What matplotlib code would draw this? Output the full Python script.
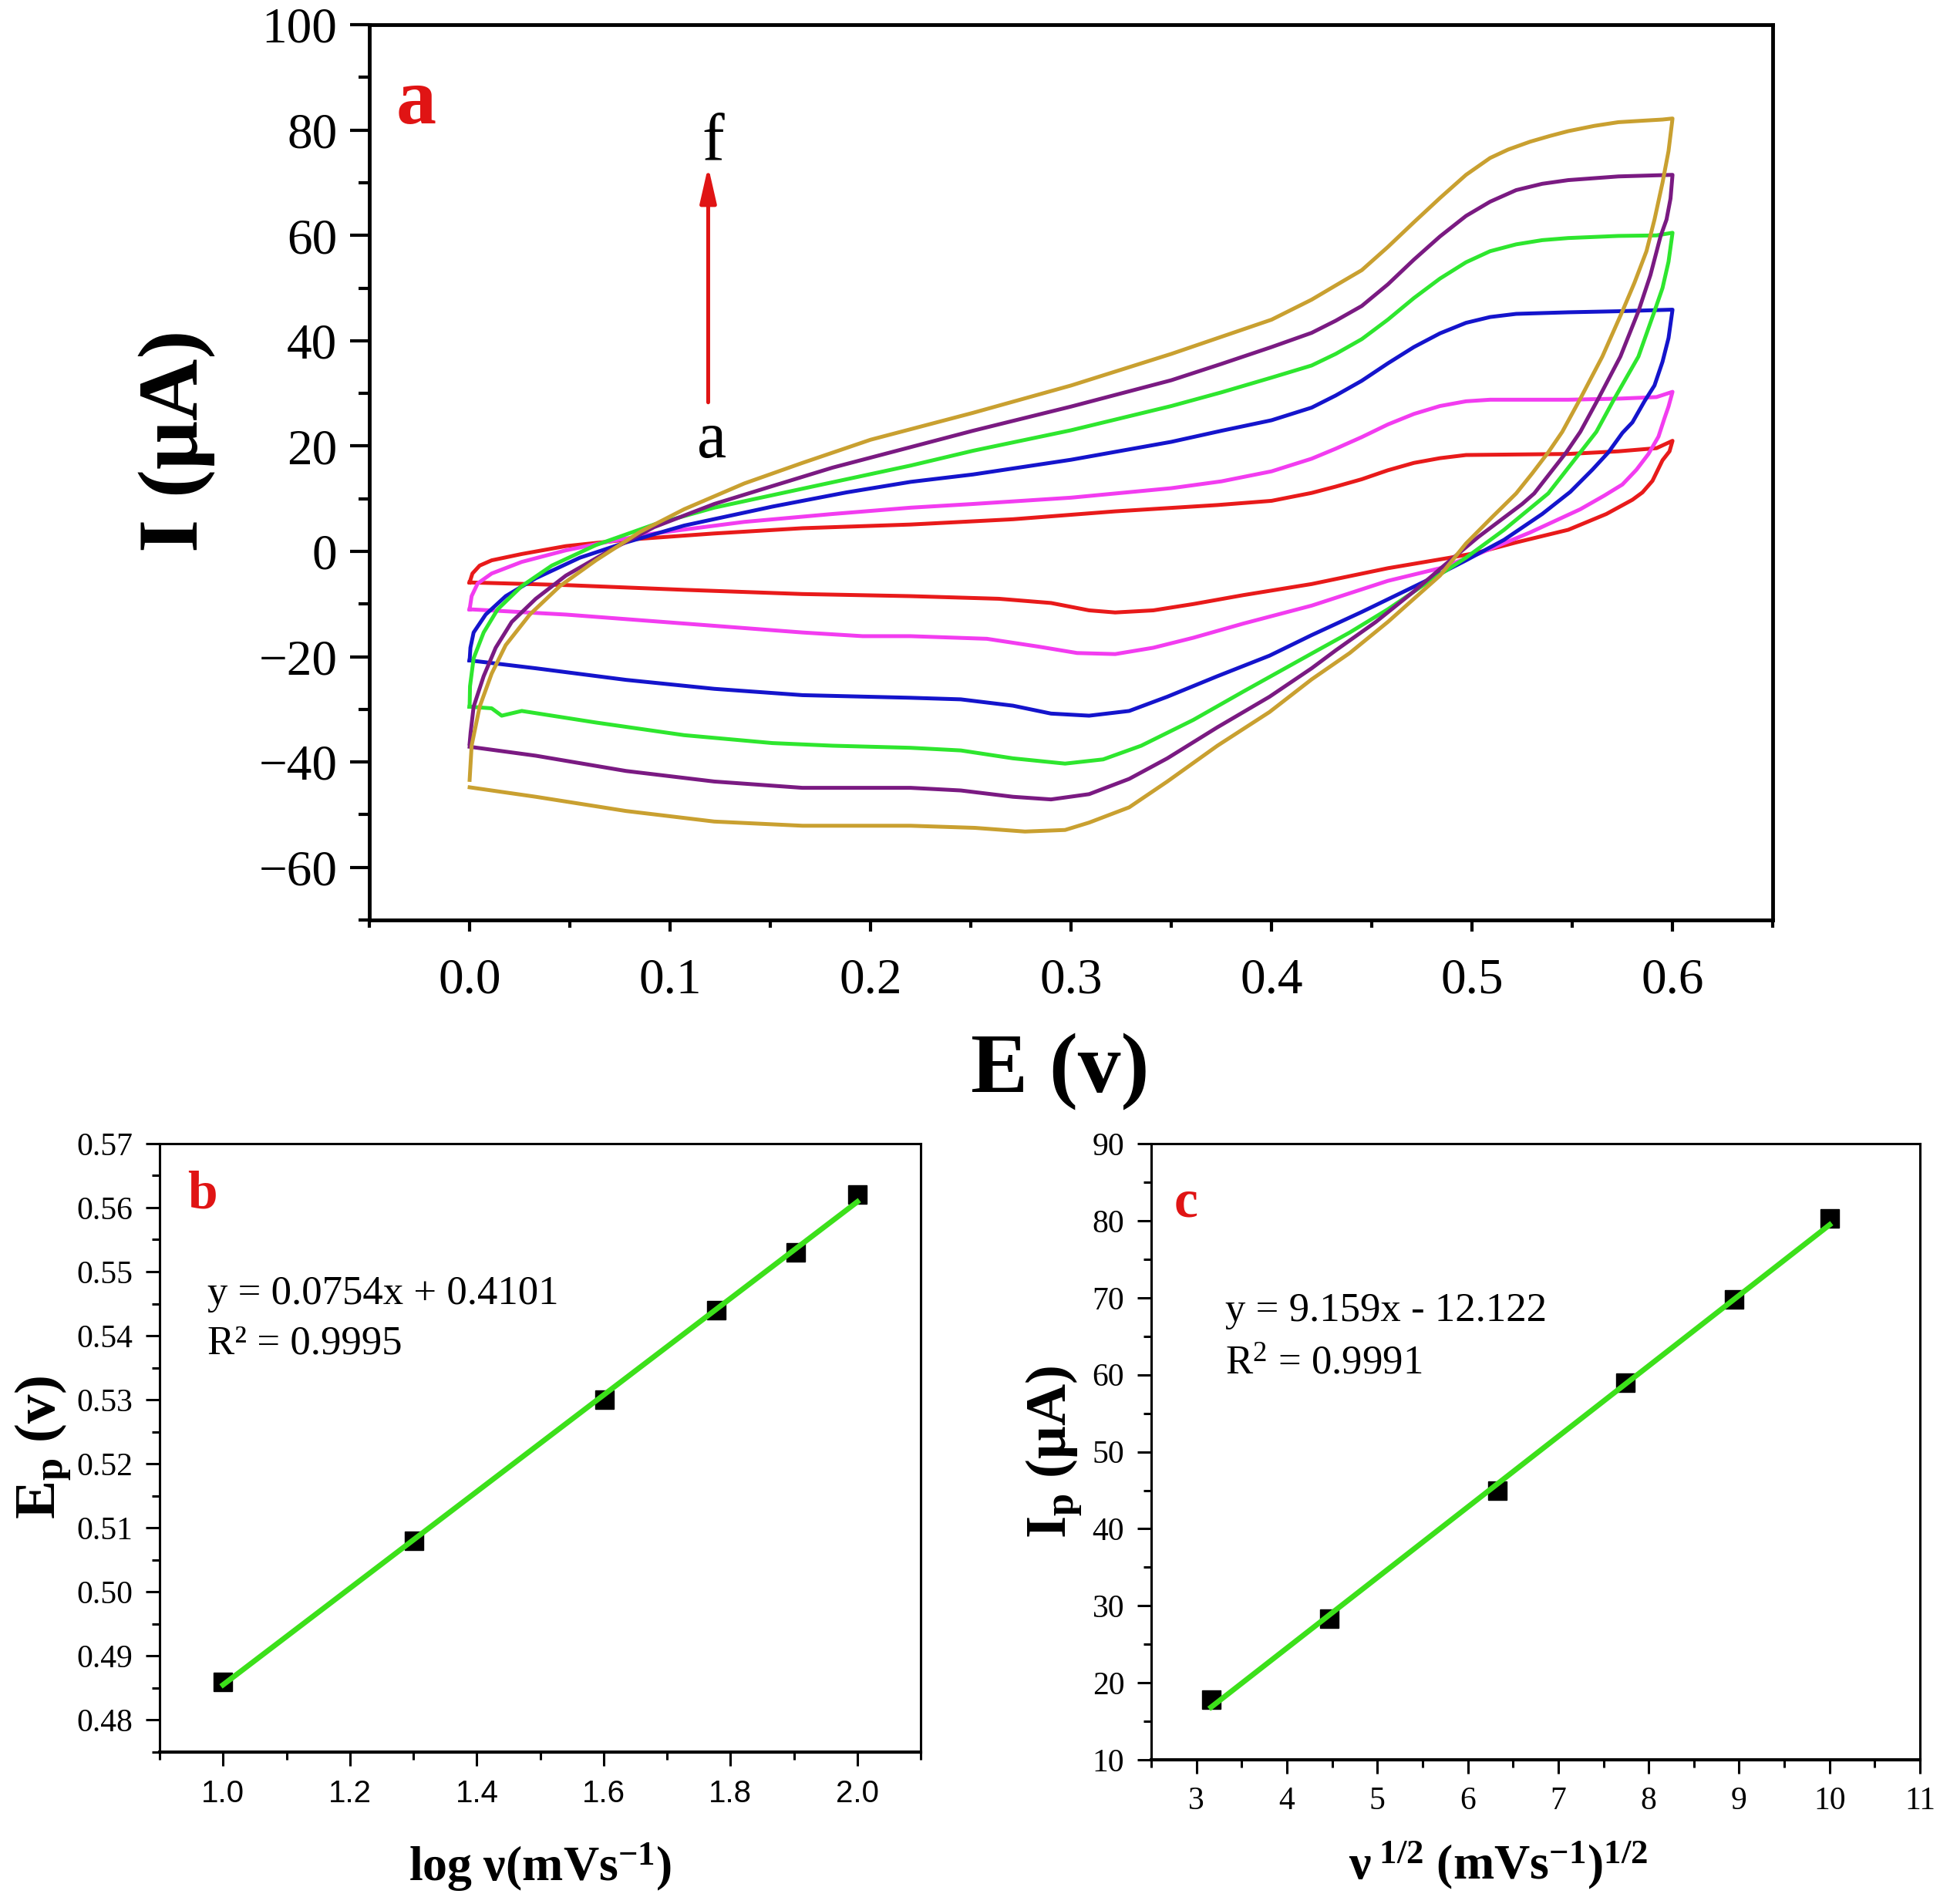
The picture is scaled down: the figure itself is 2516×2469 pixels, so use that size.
import numpy as np
import matplotlib
matplotlib.use("Agg")
import matplotlib.pyplot as plt

plt.rcParams["font.family"] = ["Liberation Serif", "DejaVu Serif"]
plt.rcParams["mathtext.fontset"] = "custom"
plt.rcParams["mathtext.rm"] = "Liberation Serif"
plt.rcParams["mathtext.it"] = "Liberation Serif:italic"
plt.rcParams["mathtext.bf"] = "Liberation Serif:bold"

# ---------------- panel a: CVs a..f (E / V, I / uA), forward sweep then reverse sweep
cv_a_E = [0, 0.0014, 0.005, 0.011, 0.026, 0.048, 0.078, 0.122, 0.166, 0.22, 0.271, 0.322, 0.373, 0.40,
          0.42, 0.432, 0.445, 0.458, 0.471, 0.484, 0.497, 0.522, 0.548, 0.573, 0.592, 0.6,
          0.5985, 0.595, 0.590, 0.585, 0.580, 0.567, 0.548, 0.522, 0.502, 0.489, 0.458, 0.42, 0.386,
          0.361, 0.341, 0.322, 0.309, 0.290, 0.264, 0.22, 0.166, 0.107, 0.048, 0.01, 0]
cv_a_I = [-5.9, -4.2, -2.7, -1.7, -0.5, 1.0, 2.2, 3.4, 4.4, 5.1, 6.1, 7.6, 8.8, 9.6,
          11.1, 12.3, 13.7, 15.4, 16.8, 17.7, 18.3, 18.4, 18.5, 19.0, 19.6, 21.0,
          19.0, 17.3, 13.4, 11.2, 9.8, 7.1, 4.1, 1.7, -0.3, -1.2, -3.2, -6.2, -8.3,
          -10.0, -11.2, -11.6, -11.2, -9.8, -9.0, -8.5, -8.1, -7.3, -6.4, -6.0, -5.9]

cv_b_E = [0, 0.001, 0.004, 0.011, 0.026, 0.048, 0.070, 0.092, 0.137, 0.181, 0.22, 0.251, 0.3, 0.35,
          0.375, 0.40, 0.42, 0.432, 0.445, 0.458, 0.471, 0.484, 0.497, 0.509, 0.522, 0.548, 0.573,
          0.592, 0.6,
          0.598, 0.596, 0.593, 0.588, 0.582, 0.575, 0.566, 0.554, 0.529, 0.503, 0.484, 0.458, 0.42,
          0.386, 0.361, 0.341, 0.322, 0.303, 0.284, 0.258, 0.22, 0.196, 0.166, 0.107, 0.048, 0.01, 0]
cv_b_I = [-11.0, -8.5, -6.1, -4.2, -2.0, 0.2, 1.9, 3.4, 5.6, 7.1, 8.3, 9.0, 10.2, 12.0,
          13.3, 15.2, 17.6, 19.5, 21.7, 24.1, 26.1, 27.6, 28.5, 28.8, 28.8, 28.8, 29.0,
          29.3, 30.3,
          27.5, 25.3, 21.8, 18.5, 15.5, 12.7, 10.6, 8.0, 3.6, -0.5, -3.2, -5.6, -10.3,
          -13.7, -16.4, -18.3, -19.5, -19.3, -18.1, -16.6, -16.1, -16.1, -15.4, -13.7, -12.0, -11.2, -11.0]

cv_c_E = [0, 0.0004, 0.002, 0.008, 0.018, 0.033, 0.055, 0.078, 0.107, 0.151, 0.188, 0.22, 0.251, 0.3,
          0.35, 0.375, 0.40, 0.42, 0.432, 0.445, 0.458, 0.471, 0.484, 0.497, 0.509, 0.522, 0.548,
          0.573, 0.6,
          0.598, 0.595, 0.591, 0.586, 0.580, 0.575, 0.568, 0.560, 0.549, 0.535, 0.516, 0.497, 0.477,
          0.445, 0.42, 0.399, 0.373, 0.348, 0.329, 0.309, 0.290, 0.271, 0.245, 0.22, 0.166, 0.122,
          0.078, 0.033, 0]
cv_c_I = [-20.7, -18.3, -15.4, -12.0, -8.5, -5.1, -1.2, 1.7, 4.9, 8.5, 11.2, 13.2, 14.6, 17.4,
          20.8, 22.9, 24.9, 27.3, 29.6, 32.4, 35.7, 38.8, 41.4, 43.4, 44.5, 45.1, 45.4,
          45.6, 45.9,
          40.5, 36.0, 31.5, 28.5, 24.5, 22.5, 18.8, 15.5, 11.3, 7.1, 2.2, -1.7, -5.6,
          -11.5, -15.9, -19.8, -23.7, -27.6, -30.3, -31.2, -30.8, -29.3, -28.1, -27.8, -27.3, -26.1,
          -24.4, -22.2, -20.7]

cv_d_E = [0, 0.0002, 0.002, 0.007, 0.014, 0.026, 0.041, 0.063, 0.092, 0.122, 0.166, 0.22, 0.251, 0.3,
          0.35, 0.375, 0.40, 0.42, 0.432, 0.445, 0.458, 0.471, 0.484, 0.497, 0.509, 0.522, 0.535,
          0.548, 0.573, 0.592, 0.6,
          0.598, 0.595, 0.591, 0.583, 0.571, 0.562, 0.554, 0.538, 0.516, 0.497, 0.477, 0.458, 0.439,
          0.42, 0.386, 0.361, 0.335, 0.316, 0.297, 0.271, 0.245, 0.22, 0.181, 0.151, 0.107, 0.063,
          0.026, 0.016, 0.011, 0]
cv_d_I = [-29.5, -25.6, -20.3, -15.4, -11.0, -6.6, -2.7, 1.2, 5.1, 8.3, 11.9, 16.3, 19.1, 23.0,
          27.6, 30.2, 33.0, 35.3, 37.5, 40.3, 44.0, 48.1, 51.8, 54.9, 57.0, 58.3, 59.1,
          59.5, 59.9, 60.0, 60.5,
          55.0, 50.0, 45.6, 37.0, 29.0, 22.7, 18.8, 11.0, 4.1, -1.2, -6.1, -11.0, -15.4,
          -19.4, -26.6, -32.0, -36.9, -39.5, -40.3, -39.3, -37.8, -37.3, -36.9, -36.4, -34.9, -32.5,
          -30.3, -31.2, -29.8, -29.5]

cv_e_E = [0, 0.0005, 0.002, 0.007, 0.013, 0.021, 0.033, 0.048, 0.070, 0.092, 0.122, 0.151, 0.181, 0.2,
          0.251, 0.3, 0.35, 0.375, 0.40, 0.42, 0.432, 0.445, 0.458, 0.471, 0.484, 0.497, 0.509, 0.522,
          0.535, 0.548, 0.573, 0.6,
          0.599, 0.597, 0.594, 0.589, 0.583, 0.574, 0.563, 0.554, 0.547, 0.531, 0.525, 0.503, 0.486,
          0.471, 0.452, 0.432, 0.42, 0.399, 0.373, 0.348, 0.329, 0.309, 0.290, 0.271, 0.245, 0.22,
          0.166, 0.122, 0.078, 0.033, 0]
cv_e_I = [-36.5, -34.4, -29.5, -23.7, -18.3, -13.4, -9.0, -4.6, 0.2, 4.6, 9.0, 12.4, 15.9, 17.8,
          22.9, 27.5, 32.5, 35.6, 38.8, 41.5, 43.8, 46.6, 50.7, 55.4, 59.8, 63.7, 66.4, 68.6,
          69.8, 70.5, 71.2, 71.5,
          67.0, 63.0, 59.8, 52.5, 45.6, 37.0, 29.0, 22.7, 18.8, 11.0, 9.0, 2.7, -2.7,
          -7.6, -13.4, -18.8, -22.2, -27.6, -33.4, -39.3, -43.2, -46.1, -47.1, -46.6, -45.4, -44.9,
          -44.9, -43.7, -41.7, -38.8, -37.1]

cv_f_E = [0, 0.001, 0.005, 0.011, 0.018, 0.030, 0.045, 0.063, 0.085, 0.107, 0.137, 0.166, 0.2, 0.251,
          0.3, 0.35, 0.40, 0.42, 0.432, 0.445, 0.458, 0.471, 0.484, 0.497, 0.509, 0.518, 0.529, 0.539,
          0.548, 0.561, 0.573, 0.586, 0.595, 0.6,
          0.598, 0.595, 0.591, 0.587, 0.581, 0.575, 0.565, 0.554, 0.545, 0.538, 0.530, 0.522, 0.510,
          0.497, 0.484, 0.471, 0.458, 0.439, 0.42, 0.399, 0.373, 0.348, 0.329, 0.309, 0.297, 0.277,
          0.252, 0.22, 0.166, 0.122, 0.078, 0.033, 0]
cv_f_I = [-43.4, -36.9, -29.5, -23.2, -17.8, -12.0, -6.6, -1.7, 3.7, 8.0, 12.9, 16.8, 21.2, 26.3,
          31.5, 37.5, 44.0, 47.8, 50.5, 53.4, 57.8, 62.5, 67.1, 71.5, 74.7, 76.3, 77.8, 78.9,
          79.8, 80.8, 81.5, 81.8, 82.0, 82.2,
          76.0, 70.0, 63.0, 57.0, 51.0, 45.6, 37.0, 29.0, 22.7, 18.8, 14.8, 11.0, 6.5,
          1.5, -4.6, -9.0, -13.4, -19.3, -24.3, -30.5, -36.9, -43.7, -48.6, -51.5, -52.9, -53.2,
          -52.5, -52.1, -52.1, -51.3, -49.3, -46.6, -44.8]

cv_colors = ["#e81a1a", "#f23cf0", "#1414cc", "#2ee62e", "#7a1a82", "#c9a030"]

# ---------------- panel b: peak potential vs log(scan rate)
log_v = [1.0, 1.301, 1.602, 1.778, 1.903, 2.0]
Ep = [0.486, 0.508, 0.530, 0.544, 0.553, 0.562]
fit_b = (0.0754, 0.4101)

# ---------------- panel c: peak current vs sqrt(scan rate)
sqrt_v = [3.162, 4.472, 6.325, 7.746, 8.944, 10.0]
Ip = [17.8, 28.3, 45.0, 59.0, 69.8, 80.3]
fit_c = (9.159, -12.122)

RED = "#e01414"
FIT_GREEN = "#3ce01a"

fig = plt.figure(figsize=(25.16, 24.69), dpi=100)

# ---- panel a
ax_a = fig.add_axes([0.1904, 0.5168, 0.7234, 0.4702])
curves = [(cv_a_E, cv_a_I), (cv_b_E, cv_b_I), (cv_c_E, cv_c_I),
          (cv_d_E, cv_d_I), (cv_e_E, cv_e_I), (cv_f_E, cv_f_I)]
for (E, I), col in zip(curves, cv_colors):
    ax_a.plot(E, I, color=col, lw=3.6, solid_joinstyle="round")

ax_a.set_xlim(-0.05, 0.65)
ax_a.set_ylim(-70, 100)
ax_a.set_xticks(np.round(np.arange(0, 0.61, 0.1), 2))
ax_a.set_xticklabels([f"{t:.1f}" for t in np.arange(0, 0.61, 0.1)])
ax_a.set_xticks(np.round(np.arange(-0.05, 0.66, 0.1), 3), minor=True)
ax_a.set_yticks(np.arange(-60, 101, 20))
ax_a.set_yticks(np.arange(-70, 100, 20), minor=True)
ax_a.tick_params(axis="y", which="major", direction="out", length=18, width=3, labelsize=47, pad=12)
ax_a.tick_params(axis="y", which="minor", direction="out", length=10, width=3)
ax_a.tick_params(axis="x", which="major", direction="out", length=11, width=3, labelsize=47, pad=24)
ax_a.tick_params(axis="x", which="minor", direction="out", length=7, width=3)
for sp in ax_a.spines.values():
    sp.set_linewidth(3.5)

ax_a.set_ylabel("I (μA)", fontsize=80, fontweight="bold", va="center")
ax_a.yaxis.set_label_coords(-0.137, 0.535)
ax_a.set_xlabel("E (v)", fontsize=80, fontweight="bold", va="center")
ax_a.xaxis.set_label_coords(0.492, -0.17)

ax_a.text(-0.0265, 81.3, "a", color=RED, fontsize=75, fontweight="bold", ha="center", va="baseline")
ax_a.annotate("", xy=(0.119, 73.1), xytext=(0.119, 28.3),
              arrowprops=dict(arrowstyle="-|>,head_length=0.7,head_width=0.16", color=RED,
                              lw=3.6, mutation_scale=40, shrinkA=0, shrinkB=0))
ax_a.text(0.1215, 74.4, "f", fontsize=62, ha="center", va="baseline")
ax_a.text(0.1208, 17.9, "a", fontsize=62, ha="center", va="baseline")

# ---- panel b
ax_b = fig.add_axes([0.0823, 0.0798, 0.3923, 0.3196])
xb = np.array([log_v[0], log_v[-1]])
ax_b.plot(log_v, Ep, "s", color="black", ms=17, zorder=2)
ax_b.plot(xb, fit_b[0] * xb + fit_b[1], color=FIT_GREEN, lw=5, zorder=3)
ax_b.set_xlim(0.9, 2.1)
ax_b.set_ylim(0.475, 0.57)
xt_b = np.round(np.arange(1.0, 2.01, 0.2), 1)
ax_b.set_xticks(xt_b, labels=[f"{t:.1f}" for t in xt_b], fontfamily="Liberation Sans", fontsize=29)
ax_b.set_xticks(np.round(np.arange(0.9, 2.11, 0.2), 1), minor=True)
yt_b = np.round(np.arange(0.48, 0.571, 0.01), 2)
ax_b.set_yticks(yt_b, labels=[f"{t:.2f}" for t in yt_b], fontsize=30)
ax_b.set_yticks(np.round(np.arange(0.475, 0.57, 0.01), 3), minor=True)

# ---- panel c
ax_c = fig.add_axes([0.5934, 0.0757, 0.3963, 0.3236])
xc = np.array([sqrt_v[0], sqrt_v[-1]])
ax_c.plot(sqrt_v, Ip, "s", color="black", ms=17, zorder=2)
ax_c.plot(xc, fit_c[0] * xc + fit_c[1], color=FIT_GREEN, lw=5, zorder=3)
ax_c.set_xlim(2.5, 11)
ax_c.set_ylim(10, 90)
ax_c.set_xticks(np.arange(3, 12, 1), labels=[str(t) for t in range(3, 12)], fontsize=30)
ax_c.set_xticks(np.arange(2.5, 11, 1), minor=True)
ax_c.set_yticks(np.arange(10, 91, 10), labels=[str(t) for t in range(10, 91, 10)], fontsize=30)
ax_c.set_yticks(np.arange(15, 90, 10), minor=True)

for ax in (ax_b, ax_c):
    ax.tick_params(which="major", direction="out", length=13, width=2.2, pad=12)
    ax.tick_params(which="minor", direction="out", length=7, width=2.2)
    for sp in ax.spines.values():
        sp.set_linewidth(2.2)
    ax.spines["bottom"].set_linewidth(3)

ax_b.set_ylabel(r"$\mathbf{E_{p}\ (v)}$", fontsize=54, va="center")
ax_b.yaxis.set_label_coords(-0.154, 0.5)
ax_b.set_xlabel(r"$\mathbf{log\ \nu(mVs^{-1})}$", fontsize=46, va="center")
ax_b.xaxis.set_label_coords(0.50, -0.189)
ax_b.text(0.0365, 0.8935, "b", transform=ax_b.transAxes, color=RED, fontsize=50,
          fontweight="bold", ha="left", va="baseline")
ax_b.text(0.063, 0.736, "y = 0.0754x + 0.4101", transform=ax_b.transAxes, fontsize=38, va="baseline")
ax_b.text(0.063, 0.654, "R² = 0.9995", transform=ax_b.transAxes, fontsize=38, va="baseline")

ax_c.set_ylabel(r"$\mathbf{I_{p}\ (\mu A)}$", fontsize=54, va="center")
ax_c.yaxis.set_label_coords(-0.127, 0.5)
ax_c.set_xlabel(r"$\mathbf{\nu^{\ 1/2}\ (mVs^{-1})^{1/2}}$", fontsize=46, va="center")
ax_c.xaxis.set_label_coords(0.451, -0.171)
ax_c.text(0.030, 0.882, "c", transform=ax_c.transAxes, color=RED, fontsize=50,
          fontweight="bold", ha="left", va="baseline")
ax_c.text(0.096, 0.712, "y = 9.159x - 12.122", transform=ax_c.transAxes, fontsize=38, va="baseline")
ax_c.text(0.096, 0.626, "R$^2$ = 0.9991", transform=ax_c.transAxes, fontsize=38, va="baseline")

fig.savefig("out.png", dpi=100, facecolor="white")
